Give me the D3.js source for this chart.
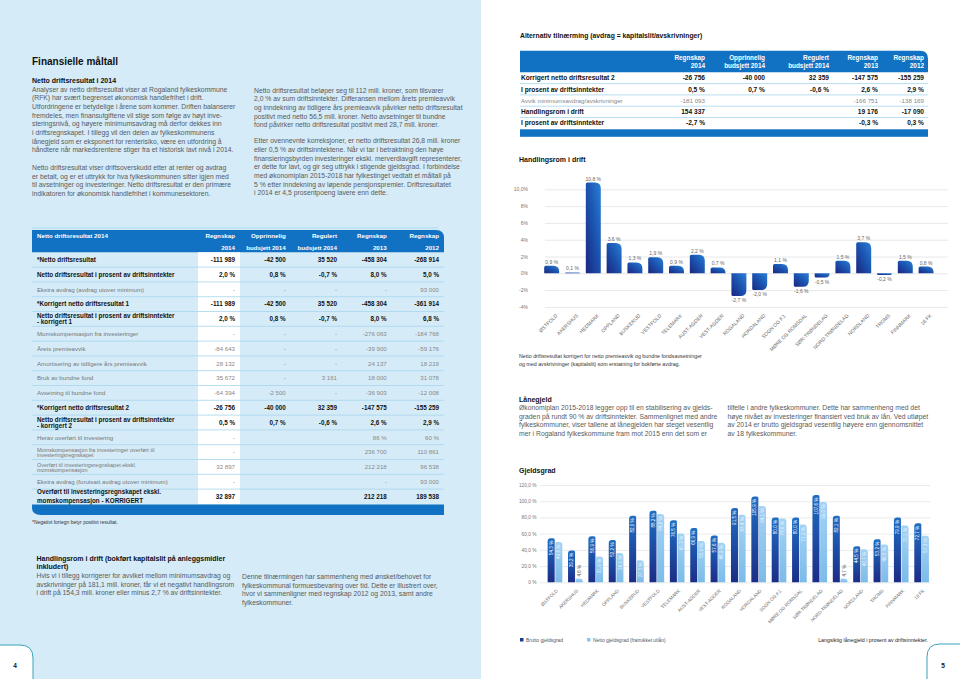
<!DOCTYPE html>
<html><head><meta charset="utf-8">
<script src="https://cdn.jsdelivr.net/npm/d3@7"></script>
<style>
body{margin:0;background:#fff}
svg{display:block}
text{font-family:"Liberation Sans",Arial,Helvetica,sans-serif}
</style></head>
<body><svg id="c" width="960" height="679"></svg>
<script>
// ---------------- DATA ----------------
const counties = ["ØSTFOLD","AKERSHUS","HEDMARK","OPPLAND","BUSKERUD","VESTFOLD","TELEMARK","AUST-AGDER","VEST-AGDER","ROGALAND","HORDALAND","SOGN OG FJ.","MØRE OG ROMSDAL","SØR-TRØNDELAG","NORD-TRØNDELAG","NORDLAND","TROMS","FINNMARK","18 FK"];
const handlingsrom = [0.9,0.1,10.8,3.6,1.3,1.9,0.9,2.2,0.7,-2.7,-2.0,1.1,-1.6,-0.5,1.5,3.7,-0.2,1.5,0.8];
const handlingsromTicks = [-4,-2,0,2,4,6,8,10];
const handlingsromTickLabels = ["-4%","-2%","0%","2%","4%","6%","8%","10,0%"];
const gjeldsSeries = ["Brutto gjeldsgrad","Netto gjeldsgrad (fratrukket utlån)"];
const bruttoGjeldsgrad = [54.3,39.2,56.9,52.2,82.0,88.2,76.5,66.9,57.6,91.5,105.9,80.0,80.0,107.6,82.1,44.5,53.2,79.9,72.7];
const nettoGjeldsgrad = [49.6,4.6,31.9,36.0,27.3,84.2,60.3,50.9,48.9,83.4,94.1,78.6,71.2,99.0,4.7,40.7,46.5,70.1,57.3];
const gjeldsgradTicks = [0,20,40,60,80,100,120];
const gjeldsgradTickLabels = ["0 %","20,0 %","40,0 %","60,0 %","80,0 %","100,0 %","120,0 %"];

const tableColumns = [["Regnskap","2014"],["Opprinnelig","budsjett 2014"],["Regulert","budsjett 2014"],["Regnskap","2013"],["Regnskap","2012"]];
const nettoTitle = "Netto driftsresultat 2014";
const nettoRowLabels = [
 "*Netto driftsresultat",
 "Netto driftsresultat i prosent av driftsinntekter",
 "Ekstra avdrag (avdrag utover minimum)",
 "*Korrigert netto driftsresultat 1",
 "Netto driftsresultat i prosent av driftsinntekter\n- korrigert 1",
 "Momskompensasjon fra investeringer",
 "Årets premieavvik",
 "Amortisering av tidligere års premieavvik",
 "Bruk av bundne fond",
 "Avsetning til bundne fond",
 "*Korrigert netto driftsresultat 2",
 "Netto driftsresultat i prosent av driftsinntekter\n- korrigert 2",
 "Herav overført til investering",
 "Momskompensasjon fra investeringer overført til\ninvesteringsregnskapet",
 "Overført til investeringsregnskapet ekskl.\nmomskompensasjon",
 "Ekstra avdrag (forutsatt avdrag utover minimum)",
 "Overført til investeringsregnskapet ekskl.\nmomskompensasjon - KORRIGERT"
];
const nettoRowValues = [
 ["-111 989","-42 500","35 520","-458 304","-268 914"],
 ["2,0 %","0,8 %","-0,7 %","8,0 %","5,0 %"],
 ["-","-","-","-","93 000"],
 ["-111 989","-42 500","35 520","-458 304","-361 914"],
 ["2,0 %","0,8 %","-0,7 %","8,0 %","6,8 %"],
 ["-","-","-","-276 063","-184 768"],
 ["-84 643","-","-","-39 900","-59 176"],
 ["28 132","-","-","24 137","18 219"],
 ["35 672","-","3 161","18 000","31 078"],
 ["-64 394","-2 500","-","-36 903","-12 008"],
 ["-26 756","-40 000","32 359","-147 575","-155 259"],
 ["0,5 %","0,7 %","-0,6 %","2,6 %","2,9 %"],
 ["-","","","86 %","60 %"],
 ["-","","","236 700","110 861"],
 ["32 897","","","212 218","96 538"],
 ["-","","","-","93 000"],
 ["32 897","","","212 218","189 538"]
];
const altTitle = "Alternativ tilnærming (avdrag = kapitalslit/avskrivninger)";
const altRowLabels = ["Korrigert netto driftsresultat 2","I prosent av driftsinntekter","Avvik minimumsavdrag/avskrivninger","Handlingsrom i drift","I prosent av driftsinntekter"];
const altRowValues = [
 ["-26 756","-40 000","32 359","-147 575","-155 259"],
 ["0,5 %","0,7 %","-0,6 %","2,6 %","2,9 %"],
 ["-181 093","","","-166 751","-138 169"],
 ["154 337","","","19 176","-17 090"],
 ["-2,7 %","","","-0,3 %","0,3 %"]
];

// ---------------- TEXT ----------------
const leftPara1 = ["Analyser av netto driftsresultat viser at Rogaland fylkeskommune","(RFK) har svært begrenset økonomisk handlefrihet i drift.","Utfordringene er betydelige i årene som kommer. Driften balanserer","fremdeles, men finansutgiftene vil stige som følge av høyt inve-","steringsnivå, og høyere minimumsavdrag må derfor dekkes inn","i driftsregnskapet. I tillegg vil den delen av fylkeskommunens","lånegjeld som er eksponert for renterisiko, være en utfordring å","håndtere når markedsrentene stiger fra et historisk lavt nivå i 2014."];
const leftPara2 = ["Netto driftsresultat viser driftsoverskudd etter at renter og avdrag","er betalt, og er et uttrykk for hva fylkeskommunen sitter igjen med","til avsetninger og investeringer. Netto driftsresultat er den primære","indikatoren for økonomisk handlefrihet i kommunesektoren."];
const midPara1 = ["Netto driftsresultat beløper seg til 112 mill. kroner, som tilsvarer","2,0 % av sum driftsinntekter. Differansen mellom årets premieavvik","og inndekning av tidligere års premieavvik påvirker netto driftsresultat","positivt med netto 56,5 mill. kroner. Netto avsetninger til bundne","fond påvirker netto driftsresultat positivt med 28,7 mill. kroner."];
const midPara2 = ["Etter ovennevnte korreksjoner, er netto driftsresultat 26,8 mill. kroner","eller 0,5 % av driftsinntektene. Når vi tar i betraktning den høye","finansieringsbyrden investeringer ekskl. merverdiavgift representerer,","er dette for lavt, og gir seg uttrykk i stigende gjeldsgrad. I forbindelse","med økonomiplan 2015-2018 har fylkestinget vedtatt et måltall på","5 % etter inndekning av løpende pensjonspremier. Driftsresultatet","i 2014 er 4,5 prosentpoeng lavere enn dette."];
const bottomHead = ["Handlingsrom i drift (bokført kapitalslit på anleggsmidler","inkludert)"];
const bottomLeft = ["Hvis vi i tillegg korrigerer for avviket mellom minimumsavdrag og","avskrivninger på 181,1 mill. kroner, får vi et negativt handlingsrom","i drift på 154,3 mill. kroner eller minus 2,7 % av driftsinntekter."];
const bottomRight = ["Denne tilnærmingen har sammenheng med ønsket/behovet for","fylkeskommunal formuesbevaring over tid. Dette er illustrert over,","hvor vi sammenligner med regnskap 2012 og 2013, samt andre","fylkeskommuner."];
const laneLeft = ["Økonomiplan 2015-2018 legger opp til en stabilisering av gjelds-","graden på rundt 90 % av driftsinntekter. Sammenlignet med andre","fylkeskommuner, viser tallene at lånegjelden har steget vesentlig","mer i Rogaland fylkeskommune fram mot 2015 enn det som er"];
const laneRight = ["tilfelle i andre fylkeskommuner. Dette har sammenheng med det","høye nivået av investeringer finansiert ved bruk av lån. Ved utløpet","av 2014 er brutto gjeldsgrad vesentlig høyere enn gjennomsnittet","av 18 fylkeskommuner."];

// ---------------- DRAW ----------------
const svg = d3.select("#c");
const defs = svg.append("defs");
function grad(id, stops, x1, y1, x2, y2){
  const g = defs.append("linearGradient").attr("id", id).attr("x1",x1).attr("y1",y1).attr("x2",x2).attr("y2",y2);
  stops.forEach(s => g.append("stop").attr("offset", s[0]).attr("stop-color", s[1]));
}
grad("gHr", [[0,"#2b7fd5"],[0.45,"#1b56b2"],[1,"#1a2680"]], 1, 0, 0, 1);
grad("gDark", [[0,"#1f6ec4"],[1,"#1c2c86"]], 0, 0, 0, 1);
grad("gLight", [[0,"#a4d3f4"],[1,"#7cbbe9"]], 0, 0, 0, 1);

const BLUE = "#1172c4", PAGEBG = "#d5ebf8", SEP = "#a6d5ee", GREY = "#5a5a5a";

// page backgrounds
svg.append("rect").attr("x",0).attr("y",0).attr("width",481).attr("height",679).attr("fill",PAGEBG);

function lines(arr, x, y0, lh, size, opts={}){
  const t = svg.append("g");
  arr.forEach((s,i)=>{
    t.append("text").attr("x",x).attr("y",y0+i*lh).attr("font-size",size)
     .attr("fill",opts.fill||GREY).attr("font-weight",opts.bold?"bold":null)
     .attr("text-anchor",opts.anchor||"start").text(s);
  });
}

// left page text
lines(["Finansielle måltall"], 32, 65.3, 0, 10, {bold:true, fill:"#111"});
lines(["Netto driftsresultat i 2014"], 32, 83.4, 0, 7, {bold:true, fill:"#111"});
lines(leftPara1, 32, 91.6, 8.67, 6.8);
lines(leftPara2, 32, 170, 8.67, 6.8);
lines(midPara1, 254, 92.8, 8.67, 6.8);
lines(midPara2, 254, 143.2, 8.67, 6.8);

// left table
(function(){
  const x0 = 32, x1 = 444, top = 230, hb = 252.3, rh = 14.8;
  const colR = [235, 285.7, 337, 386.7, 439];
  const bold = new Set([0,1,3,4,10,11,16]);
  const n = nettoRowLabels.length;
  const bottom = hb + n*rh;
  svg.append("line").attr("x1",x0).attr("x2",x1-6).attr("y1",228).attr("y2",228).attr("stroke","#a8def3").attr("stroke-width",1);
  svg.append("path").attr("d",`M${x0},${top}H${x1-8}Q${x1},${top} ${x1},${top+8}V${hb}H${x0}Z`).attr("fill",BLUE);
  svg.append("rect").attr("x",198).attr("y",hb).attr("width",42).attr("height",bottom-hb).attr("fill","#fff");
  svg.append("text").attr("x",37).attr("y",238.3).attr("font-size",6.2).attr("font-weight","bold").attr("fill","#fff").text(nettoTitle);
  tableColumns.forEach((c,i)=>{
    svg.append("text").attr("x",colR[i]).attr("y",238.3).attr("font-size",6.2).attr("font-weight","bold").attr("fill","#fff").attr("text-anchor","end").text(c[0]);
    svg.append("text").attr("x",colR[i]).attr("y",250).attr("font-size",6.2).attr("font-weight","bold").attr("fill","#fff").attr("text-anchor","end").text(c[1]);
  });
  const g = svg.append("g");
  nettoRowLabels.forEach((lab,i)=>{
    const yc = hb + i*rh + rh/2;
    const b = bold.has(i);
    if(i < n-1) g.append("line").attr("x1",x0).attr("x2",x1).attr("y1",hb+(i+1)*rh).attr("y2",hb+(i+1)*rh).attr("stroke",SEP).attr("stroke-width",0.8);
    const parts = lab.split("\n");
    const lh = b ? 5.6 : 4.9;
    const fs = b ? 6.3 : (parts.length>1 ? 5.5 : 6.1);
    parts.forEach((p,j)=>{
      g.append("text").attr("x",37).attr("y",yc + 2.2 + (j-(parts.length-1)/2)*lh + (i===16?(j? 1.5:-1.5):0))
       .attr("font-size",fs).attr("font-weight",b?"bold":null).attr("fill",b?"#111":"#777").text(p);
    });
    nettoRowValues[i].forEach((v,k)=>{
      g.append("text").attr("x",colR[k]).attr("y",yc+2.2).attr("font-size",b?6.3:6.1)
       .attr("font-weight",b?"bold":null).attr("fill",b?"#111":"#888").attr("text-anchor","end").text(v);
    });
  });
  svg.append("path").attr("d",`M${x0},${bottom+0.5}H${x1}V${bottom+11}H${x0+9}Q${x0},${bottom+11} ${x0},${bottom+4}Z`).attr("fill",BLUE);
  svg.append("text").attr("x",32).attr("y",524.4).attr("font-size",5).attr("fill","#333").text("*Negativt fortegn betyr positivt resultat.");
})();

lines(bottomHead, 36.5, 561.2, 8, 7, {bold:true, fill:"#111"});
lines(bottomLeft, 36.5, 578, 8.67, 6.8);
lines(bottomRight, 242, 579, 8.67, 6.8);

// page tabs
svg.append("path").attr("d","M-2,679V645H20Q33,645 33,658V681").attr("fill","#fff").attr("stroke","#3aa3b8").attr("stroke-width",1);
svg.append("text").attr("x",15).attr("y",667.5).attr("font-size",6.5).attr("font-weight","bold").attr("fill","#111").attr("text-anchor","middle").text("4");
svg.append("path").attr("d","M962,644H940Q927,644 927,657V681").attr("fill","#fff").attr("stroke","#3aa3b8").attr("stroke-width",1);
svg.append("text").attr("x",943).attr("y",667.5).attr("font-size",6.5).attr("font-weight","bold").attr("fill","#111").attr("text-anchor","middle").text("5");

// right table
(function(){
  const x0 = 520, x1 = 928, top = 50.7, hb = 72.3, rh = 11.3;
  const colR = [705, 765, 829, 878, 924];
  const bold = new Set([0,1,3,4]);
  svg.append("text").attr("x",520).attr("y",37.6).attr("font-size",6.8).attr("font-weight","bold").attr("fill","#111").text(altTitle);
  svg.append("path").attr("d",`M${x0},${top}H${x1-8}Q${x1},${top} ${x1},${top+8}V${hb}H${x0}Z`).attr("fill",BLUE);
  tableColumns.forEach((c,i)=>{
    svg.append("text").attr("x",colR[i]).attr("y",59.5).attr("font-size",6.4).attr("font-weight","bold").attr("fill","#fff").attr("text-anchor","end").text(c[0]);
    svg.append("text").attr("x",colR[i]).attr("y",68).attr("font-size",6.4).attr("font-weight","bold").attr("fill","#fff").attr("text-anchor","end").text(c[1]);
  });
  altRowLabels.forEach((lab,i)=>{
    const yc = hb + i*rh + rh/2;
    const b = bold.has(i);
    if(i < altRowLabels.length-1) svg.append("line").attr("x1",x0).attr("x2",x1).attr("y1",hb+(i+1)*rh).attr("y2",hb+(i+1)*rh).attr("stroke",SEP).attr("stroke-width",0.8);
    svg.append("text").attr("x",521).attr("y",yc+2.3).attr("font-size",b?6.6:6.2).attr("font-weight",b?"bold":null).attr("fill",b?"#111":"#888").text(lab);
    altRowValues[i].forEach((v,k)=>{
      svg.append("text").attr("x",colR[k]).attr("y",yc+2.3).attr("font-size",b?6.6:6.2).attr("font-weight",b?"bold":null).attr("fill",b?"#111":"#888").attr("text-anchor","end").text(v);
    });
  });
  const bottom = hb + altRowLabels.length*rh;
  svg.append("rect").attr("x",x0).attr("y",bottom+0.5).attr("width",x1-x0).attr("height",7.5).attr("fill",BLUE);
})();

// rounded bar path
function roundedBar(x0, w, yBase, yEnd, rL, rR){
  const h = Math.abs(yEnd - yBase);
  const dir = yEnd <= yBase ? 1 : -1;
  rL = Math.min(rL, h, w/2); rR = Math.min(rR, h, w/2);
  const p = d3.path();
  p.moveTo(x0, yBase);
  p.lineTo(x0, yEnd + dir*rL);
  p.quadraticCurveTo(x0, yEnd, x0 + rL, yEnd);
  p.lineTo(x0 + w - rR, yEnd);
  p.quadraticCurveTo(x0 + w, yEnd, x0 + w, yEnd + dir*rR);
  p.lineTo(x0 + w, yBase);
  p.closePath();
  return p.toString();
}
const loc = d3.formatLocale({decimal:",", thousands:" ", grouping:[3], currency:["",""], minus:"-"});
const f1 = loc.format(".1f");

// Handlingsrom chart
(function(){
  svg.append("text").attr("x",519).attr("y",162.4).attr("font-size",7).attr("font-weight","bold").attr("fill","#111").text("Handlingsrom i drift");
  const x = d3.scaleBand().domain(counties).range([541.3, 936.5]).paddingInner(0.28).paddingOuter(0.14);
  const y = d3.scaleLinear().domain([-4, 10]).range([306.9, 189.3]);
  const ax = svg.append("g").attr("transform","translate(545,0)")
    .call(d3.axisLeft(y).tickValues(handlingsromTicks).tickFormat((d,i)=>handlingsromTickLabels[i]).tickSize(-(948-545)).tickPadding(17));
  ax.select(".domain").remove();
  ax.selectAll("line").attr("stroke","#e2e2e2").attr("stroke-width",0.8);
  ax.selectAll("text").attr("font-size",5).attr("fill","#777").attr("font-family","Liberation Sans, Arial, sans-serif");
  svg.append("g").selectAll("path").data(counties).join("path")
    .attr("d",(c,i)=>roundedBar(x(c), x.bandwidth(), y(0), y(handlingsrom[i]), 1.5, 6))
    .attr("fill","url(#gHr)");
  svg.append("g").selectAll("text").data(counties).join("text")
    .attr("x",c=>x(c)+x.bandwidth()/2)
    .attr("y",(c,i)=>handlingsrom[i]>=0 ? y(handlingsrom[i])-2 : y(handlingsrom[i])+6)
    .attr("text-anchor","middle").attr("font-size",5).attr("fill","#666")
    .text((c,i)=>f1(handlingsrom[i])+" %");
  svg.append("g").selectAll("text").data(counties).join("text")
    .attr("transform",c=>`translate(${x(c)+x.bandwidth()/2+6},316) rotate(-45)`)
    .attr("text-anchor","end").attr("font-size",5).attr("fill","#666").text(c=>c);
  lines(["Netto driftsresultat korrigert for netto premieavvik og bundne fondsavsetninger","og med avskrivninger (kapitalslit) som erstatning for bokførte avdrag."], 519, 357.5, 8.6, 5.3, {fill:"#333"});
})();

// Lånegjeld text
lines(["Lånegjeld"], 519, 401.8, 0, 7, {bold:true, fill:"#111"});
lines(laneLeft, 519, 410, 8.67, 6.8);
lines(laneRight, 727.5, 410, 8.67, 6.8);

// Gjeldsgrad chart
(function(){
  svg.append("text").attr("x",519).attr("y",473.2).attr("font-size",7).attr("font-weight","bold").attr("fill","#111").text("Gjeldsgrad");
  const x = d3.scaleBand().domain(counties).range([544.8, 931.8]).paddingInner(0.28).paddingOuter(0.14);
  const xs = d3.scaleBand().domain([0,1]).range([0, x.bandwidth()]).paddingInner(0.08);
  const y = d3.scaleLinear().domain([0,120]).range([582.3, 485]);
  const ax = svg.append("g").attr("transform","translate(540,0)")
    .call(d3.axisLeft(y).tickValues(gjeldsgradTicks).tickFormat((d,i)=>gjeldsgradTickLabels[i]).tickSize(-(930-540)).tickPadding(3.5));
  ax.select(".domain").remove();
  ax.selectAll("line").attr("stroke","#e4e4e4").attr("stroke-width",0.8);
  ax.selectAll("text").attr("font-size",4.8).attr("fill","#777").attr("font-family","Liberation Sans, Arial, sans-serif");
  const series = [bruttoGjeldsgrad, nettoGjeldsgrad];
  series.forEach((vals, s)=>{
    const g = svg.append("g");
    g.selectAll("path").data(counties).join("path")
      .attr("d",(c,i)=>roundedBar(x(c)+xs(s), xs.bandwidth(), y(0), y(vals[i]), s===0?3:1, s===0?1.5:3))
      .attr("fill", s===0 ? "url(#gDark)" : "url(#gLight)");
    g.selectAll("text").data(counties).join("text")
      .attr("transform",(c,i)=>{
        const cx = x(c)+xs(s)+xs.bandwidth()/2;
        return vals[i] < 15 ? `translate(${cx},${y(vals[i])-2}) rotate(-90)` : `translate(${cx},${y(vals[i])+2.5}) rotate(-90)`;
      })
      .attr("text-anchor",(c,i)=>vals[i] < 15 ? "start" : "end")
      .attr("dy","0.35em").attr("font-size",4.6)
      .attr("fill",(c,i)=>vals[i] < 15 ? "#555" : (s===0 ? "#fff" : "#eaf5fd"))
      .text((c,i)=>f1(vals[i])+" %");
  });
  svg.append("g").selectAll("text").data(counties).join("text")
    .attr("transform",c=>`translate(${x(c)+x.bandwidth()/2+2},590) rotate(-45)`)
    .attr("text-anchor","end").attr("dy","0.35em").attr("font-size",4.6).attr("fill","#666").text(c=>c);
  // legend
  const lg = svg.append("g");
  [["#1c3b90",520],["#8cc6ee",587]].forEach((d,i)=>{
    lg.append("rect").attr("x",d[1]).attr("y",638).attr("width",3.5).attr("height",3.5).attr("fill",d[0]);
    lg.append("text").attr("x",d[1]+6).attr("y",641.6).attr("font-size",4.9).attr("fill","#555").text(gjeldsSeries[i]);
  });
  lg.append("text").attr("x",928).attr("y",642).attr("text-anchor","end").attr("font-size",5.3).attr("fill","#222").text("Langsiktig lånegjeld i prosent av driftsinntekter.");
})();
</script></body></html>
